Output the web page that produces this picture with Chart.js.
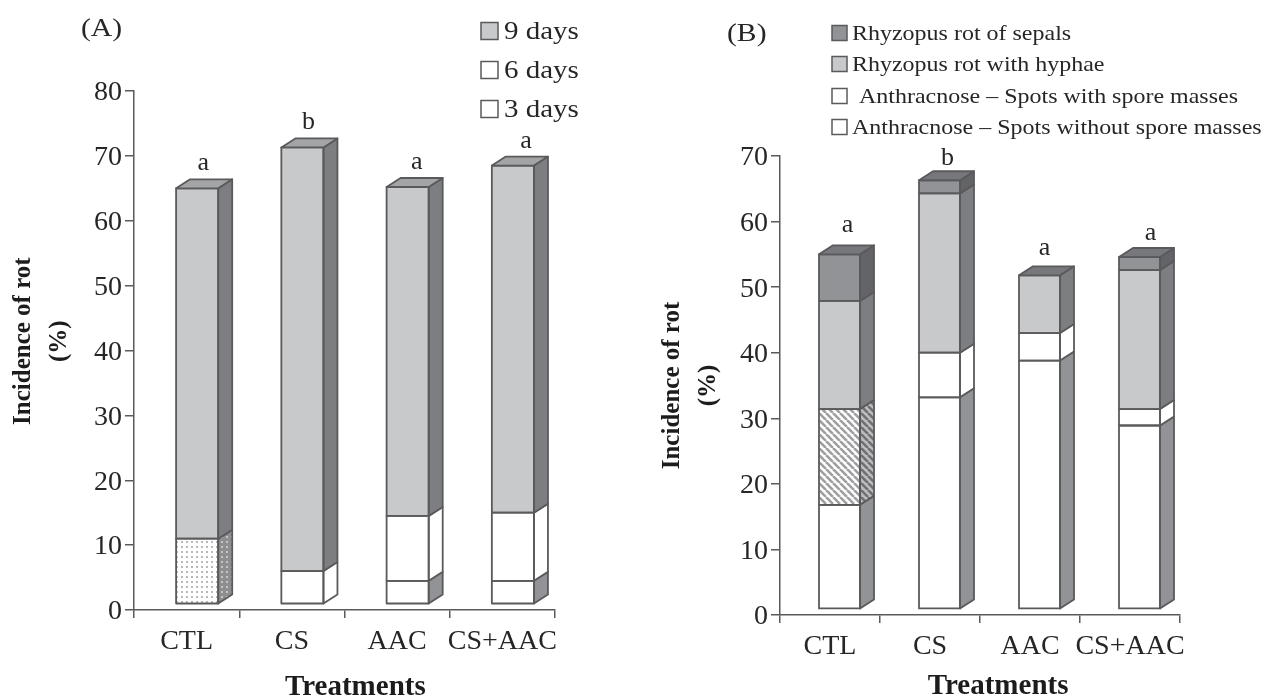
<!DOCTYPE html>
<html><head><meta charset="utf-8">
<style>html,body{margin:0;padding:0;background:#fff;overflow:hidden}canvas{position:absolute;top:0}</style>
<script src="https://cdn.jsdelivr.net/npm/chart.js@4"></script></head>
<body><canvas id="a" width="630" height="695" style="left:0;width:630px;height:695px"></canvas>
<canvas id="b" width="633" height="695" style="left:630px;width:633px;height:695px"></canvas>
<script>
const categories = ['CTL','CS','AAC','CS+AAC'];
const yTicksA = [0,10,20,30,40,50,60,70,80];
const yTicksB = [0,10,20,30,40,50,60,70];
const baseOffset = [1,1,1,1];
// Panel A segment heights (%)
const days3 = [0,0,3.5,3.5];
const days6 = [10,5,10,10.5];
const days9 = [54,65.3,50.7,53.5];
const lettersA = ['a','b','a','a'];
// Panel B segment heights (%)
const spotsWithout = [15.8,32.2,37.8,27.9];
const spotsWith = [14.6,6.8,4.2,2.5];
const withHyphae = [16.5,24.3,8.8,21.2];
const ofSepals = [7.1,2,0,2];
const lettersB = ['a','b','a','a'];
const legendA = ['9 days','6 days','3 days'];
const legendB = ['Rhyzopus rot of sepals','Rhyzopus rot with hyphae','Anthracnose – Spots with spore masses','Anthracnose – Spots without spore masses'];

const INK='#262628', LINE='#5a5a5c', SERIF='"Liberation Serif", serif', NB='\u00a0';
const LIGHT='#c8c9cb', LIGHTSIDE='#7d7e81', MIDSIDE='#929396', DARK='#929396', DARKSIDE='#636467';

function pat(size, paint){const c=document.createElement('canvas');c.width=c.height=size;paint(c.getContext('2d'),size);return document.createElement('canvas').getContext('2d').createPattern(c,'repeat');}
const dots=(bg,fg)=>pat(5,(x,s)=>{x.fillStyle=bg;x.fillRect(0,0,s,s);x.fillStyle=fg;x.fillRect(1,1,2,2);});
const hatch=(bg,fg)=>pat(7,(x,s)=>{x.fillStyle=bg;x.fillRect(0,0,s,s);x.strokeStyle=fg;x.lineWidth=2.6;x.beginPath();for(let i=-s;i<=s*2;i+=s){x.moveTo(i,0);x.lineTo(i+s,s);}x.stroke();});

function stretched(c,text,x,y,sx){c.save();c.translate(x,y);c.scale(sx,1);c.fillText(text,0,0);c.restore();}

const faces3d={id:'faces3d',
 beforeDraw(chart){ // nudge the y tick labels so the digits centre on their ticks
  const s=chart.scales.y; if(s._nudged===s._labelItems&&s._labelItems) return;
  const items=s.getLabelItems(); items.forEach(it=>{it.options.translation=[it.options.translation[0],it.options.translation[1]+2];}); s._nudged=items;
 },
 afterDatasetsDraw(chart,_,o){
  const c=chart.ctx,ds=chart.data.datasets;
  categories.forEach((_,i)=>{
    let top=null;
    ds.forEach((d,k)=>{ if(!d.side||!d.data[i]) return;
      const p=chart.getDatasetMeta(k).data[i].getProps(['x','y','base','width'],true),r=p.x+p.width/2,l=p.x-p.width/2;
      c.save();c.strokeStyle=LINE;c.lineWidth=1.8;c.lineJoin='round';
      c.fillStyle=d.side[i];c.beginPath();c.moveTo(r,p.y);c.lineTo(r+o.dx,p.y-o.dy);c.lineTo(r+o.dx,p.base-o.dy);c.lineTo(r,p.base);c.closePath();c.fill();c.stroke();
      c.strokeRect(l,p.y,p.width,p.base-p.y);c.restore();
      top={p,l,r};
    });
    if(top){const {p,l,r}=top;c.save();c.strokeStyle=LINE;c.lineWidth=1.8;c.lineJoin='round';c.fillStyle=o.topColor[i];c.beginPath();c.moveTo(l,p.y);c.lineTo(l+o.dx,p.y-o.dy);c.lineTo(r+o.dx,p.y-o.dy);c.lineTo(r,p.y);c.closePath();c.fill();c.stroke();
      c.fillStyle=INK;c.font='26px '+SERIF;c.textAlign='center';c.textBaseline='alphabetic';c.fillText(o.letters[i],p.x+o.ldx[i],p.y-o.lift[i]);c.restore();}
  });
  c.save();c.fillStyle=INK;c.textBaseline='alphabetic';c.textAlign='left';
  c.font=o.panelFont;stretched(c,o.panel,o.panelX,o.panelY,1.14);
  o.legend.forEach((t,i)=>{const L=o.legendPos[i];
    c.fillStyle=o.legendColors[i];c.strokeStyle=LINE;c.lineWidth=1.5;c.fillRect(L.sx,L.y-o.sw/2,o.sw,o.sw);c.strokeRect(L.sx,L.y-o.sw/2,o.sw,o.sw);
    c.fillStyle=INK;c.font=o.legendFont;stretched(c,t,L.tx,L.y+o.base,o.stretch);});
  c.restore();
}};

function make(id,cfg){
  const sets=[{label:'spacer',data:categories.map(()=>0),stack:'gap',backgroundColor:'transparent',borderWidth:0},
    {label:'offset',data:baseOffset,stack:'main',backgroundColor:'transparent',borderWidth:0}];
  cfg.series.forEach(s=>sets.push({label:s.label,data:s.data,stack:'main',backgroundColor:s.fill,side:s.side,borderWidth:0}));
  return new Chart(document.getElementById(id),{type:'bar',data:{labels:categories,datasets:sets},plugins:[faces3d],options:{
    responsive:false,animation:false,
    categoryPercentage:cfg.cp,barPercentage:cfg.bp,
    layout:{padding:{top:cfg.top,right:cfg.right,left:0,bottom:0}},
    plugins:{legend:{display:false},tooltip:{enabled:false},faces3d:cfg.o},
    scales:{
      x:{stacked:true,border:{color:LINE,width:1.5},grid:{drawOnChartArea:false,color:LINE,lineWidth:1.5,tickLength:8,offset:true},
        ticks:{font:{family:SERIF,size:28},color:INK,maxRotation:0,minRotation:0,autoSkip:false,padding:cfg.xpad},
        title:{display:true,text:cfg.xtitle,font:{family:SERIF,size:29,weight:'bold',lineHeight:1},color:'#1c1c1e',padding:{top:0,bottom:cfg.xtb}},
        afterFit(s){s.height=cfg.h;}},
      y:{stacked:true,min:0,max:cfg.max,afterBuildTicks(s){s.ticks=cfg.ticks.map(v=>({value:v}));},
        border:{color:LINE,width:1.5},grid:{drawOnChartArea:false,color:LINE,lineWidth:1.5,tickLength:9},
        ticks:{font:{family:SERIF,size:28},color:INK,padding:3},
        title:{display:true,text:cfg.ytitle,font:{family:SERIF,size:25,weight:'bold',lineHeight:1.45},color:'#1c1c1e',padding:{top:cfg.ytp,bottom:0}},
        afterFit(s){s.width=cfg.left;}}
    }}});
}
const dotF=dots('#fff','#b9b9bb'),dotS=dots('#8e8e91','#c4c4c6'),hatF=hatch('#fff','#9f9fa1'),hatS=hatch('#bdbdbf','#6f7073');
make('a',{cp:0.4,bp:2,top:91,right:75,left:134,h:85,max:80,ticks:yTicksA,xpad:7,xtb:-7,ytp:5,
  xtitle:NB.repeat(3)+'Treatments',ytitle:[NB.repeat(3)+'Incidence of rot',NB.repeat(3)+'(%)'],
  series:[
   {label:'3 days',data:days3,fill:'#fff',side:categories.map(()=>MIDSIDE)},
   {label:'6 days',data:days6,fill:[dotF,'#fff','#fff','#fff'],side:[dotS,'#fff','#fff','#fff']},
   {label:'9 days',data:days9,fill:LIGHT,side:categories.map(()=>LIGHTSIDE)}],
  o:{dx:14,dy:9,letters:lettersA,ldx:[6,6,9,13],lift:[18,18,18,18],topColor:categories.map(()=>'#a3a4a6'),panel:'(A)',panelX:81,panelY:36,panelFont:'26px '+SERIF,
     legend:legendA,legendColors:[LIGHT,'#fff','#fff'],legendFont:'25px '+SERIF,stretch:1.16,sw:17,base:8,
     legendPos:[{sx:481,tx:504,y:31},{sx:481,tx:504,y:70},{sx:481,tx:504,y:109}]}});
make('b',{cp:0.38,bp:2.158,top:156,right:83,left:150,h:80,max:70,ticks:yTicksB,xpad:7,xtb:-6,ytp:24,
  xtitle:NB.repeat(5)+'Treatments',ytitle:['Incidence of rot','(%)'],
  series:[
   {label:legendB[3],data:spotsWithout,fill:'#fff',side:categories.map(()=>MIDSIDE)},
   {label:legendB[2],data:spotsWith,fill:[hatF,'#fff','#fff','#fff'],side:[hatS,'#fff','#fff','#fff']},
   {label:legendB[1],data:withHyphae,fill:LIGHT,side:categories.map(()=>LIGHTSIDE)},
   {label:legendB[0],data:ofSepals,fill:DARK,side:categories.map(()=>DARKSIDE)}],
  o:{dx:14,dy:9,letters:lettersB,ldx:[8,8,5,11],lift:[22,15,20,17],topColor:categories.map(()=>'#77787b'),panel:'(B)',panelX:97,panelY:41,panelFont:'26px '+SERIF,
     legend:legendB,legendColors:[DARK,LIGHT,'#fff','#fff'],legendFont:'21px '+SERIF,stretch:1.142,sw:15,base:7,
     legendPos:[{sx:202,tx:222,y:33},{sx:202,tx:222,y:64},{sx:202,tx:229,y:96},{sx:202,tx:222,y:127}]}});
</script></body></html>
